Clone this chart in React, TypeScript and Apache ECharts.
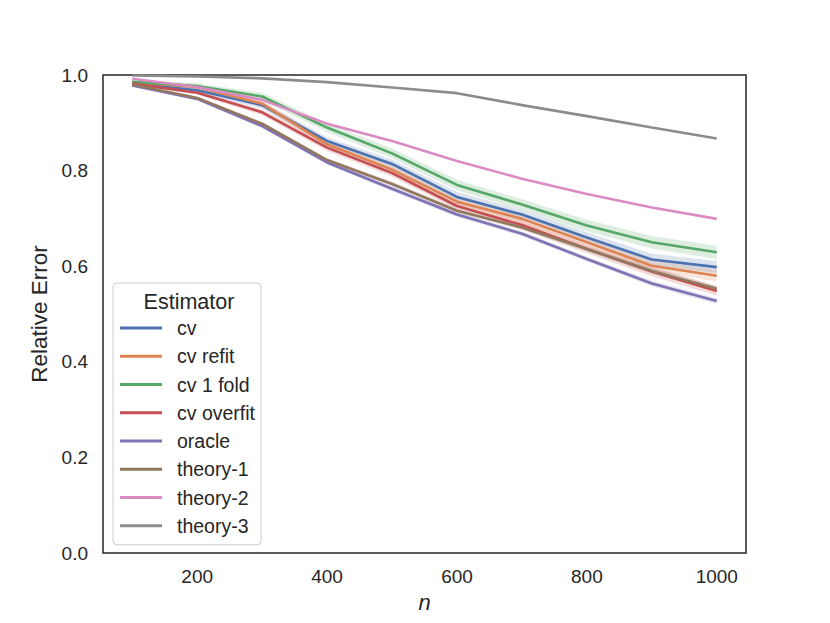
import React, { useEffect, useRef } from "react";
import * as echarts from "echarts";

const nValues = [100, 200, 300, 400, 500, 600, 700, 800, 900, 1000];
const xTickValues = [200, 400, 600, 800, 1000];

const seriesNames = ["cv", "cv refit", "cv 1 fold", "cv overfit", "oracle", "theory-1", "theory-2", "theory-3"];
const seriesColors = ["#4c72b0", "#dd8452", "#55a868", "#c44e52", "#8172b3", "#937860", "#da8bc3", "#8c8c8c"];

const cvValues = [0.982, 0.968, 0.937, 0.862, 0.814, 0.745, 0.708, 0.66, 0.614, 0.598];
const cvRefitValues = [0.985, 0.975, 0.94, 0.855, 0.802, 0.735, 0.699, 0.65, 0.601, 0.58];
const cv1FoldValues = [0.986, 0.977, 0.955, 0.89, 0.836, 0.77, 0.729, 0.685, 0.65, 0.629];
const cvOverfitValues = [0.982, 0.963, 0.922, 0.848, 0.795, 0.726, 0.686, 0.636, 0.589, 0.548];
const oracleValues = [0.978, 0.95, 0.893, 0.817, 0.762, 0.708, 0.668, 0.615, 0.564, 0.527];
const theory1Values = [0.98, 0.952, 0.898, 0.822, 0.772, 0.716, 0.681, 0.636, 0.59, 0.553];
const theory2Values = [0.992, 0.975, 0.948, 0.898, 0.862, 0.82, 0.783, 0.751, 0.723, 0.699];
const theory3Values = [0.999, 0.997, 0.993, 0.985, 0.974, 0.962, 0.937, 0.914, 0.89, 0.867];

// confidence band half-widths (read from the shaded areas)
const cvBand = [0.003, 0.005, 0.007, 0.008, 0.009, 0.01, 0.01, 0.011, 0.012, 0.013];
const cvRefitBand = [0.003, 0.005, 0.007, 0.008, 0.009, 0.009, 0.01, 0.01, 0.011, 0.012];
const cv1FoldBand = [0.003, 0.005, 0.008, 0.009, 0.01, 0.011, 0.011, 0.012, 0.013, 0.014];
const cvOverfitBand = [0.003, 0.004, 0.006, 0.007, 0.008, 0.008, 0.009, 0.009, 0.01, 0.01];
const oracleBand = [0.002, 0.003, 0.004, 0.004, 0.005, 0.005, 0.005, 0.005, 0.006, 0.006];
const theory1Band = [0.002, 0.003, 0.004, 0.004, 0.005, 0.005, 0.005, 0.005, 0.006, 0.006];
const theory2Band: number[] = [];
const theory3Band: number[] = [];

const allValues = [cvValues, cvRefitValues, cv1FoldValues, cvOverfitValues, oracleValues, theory1Values, theory2Values, theory3Values];
const allBands = [cvBand, cvRefitBand, cv1FoldBand, cvOverfitBand, oracleBand, theory1Band, theory2Band, theory3Band];

const FONT = "Liberation Sans, Arial, Helvetica, sans-serif";
const TEXT = "#262626";

export default function App() {
  const ref = useRef<HTMLDivElement>(null);
  useEffect(() => {
    if (!ref.current) return;
    const chart = echarts.init(ref.current, null, { renderer: "svg" });

    const bandSeries: any[] = [];
    allBands.forEach((band, si) => {
      if (!band.length) return;
      const vals = allValues[si];
      const rows = nValues.map((n, i) => [n, vals[i] - band[i], vals[i] + band[i]]);
      bandSeries.push({
        type: "custom",
        silent: true,
        z: 1,
        clip: true,
        data: rows,
        encode: { x: 0, y: [1, 2] },
        renderItem: (params: any, api: any) => {
          if (params.dataIndex !== 0) return null;
          const upper = rows.map((r) => api.coord([r[0], r[2]]));
          const lower = rows.map((r) => api.coord([r[0], r[1]])).reverse();
          return {
            type: "polygon",
            shape: { points: upper.concat(lower) },
            style: { fill: seriesColors[si], opacity: 0.2 },
          };
        },
      });
    });

    const lineSeries = seriesNames.map((name, si) => ({
      name,
      type: "line",
      z: 2,
      data: nValues.map((n, i) => [n, allValues[si][i]]),
      showSymbol: false,
      color: seriesColors[si],
      lineStyle: { width: 2.6, color: seriesColors[si] },
      itemStyle: { color: seriesColors[si] },
    }));

    chart.setOption({
      animation: false,
      backgroundColor: "#ffffff",
      grid: {
        left: 103,
        top: 75,
        width: 643,
        height: 478,
        show: true,
        borderColor: TEXT,
        borderWidth: 1.5,
        backgroundColor: "transparent",
      },
      xAxis: {
        type: "value",
        min: 55,
        max: 1045,
        name: "n",
        nameLocation: "middle",
        nameGap: 38,
        nameTextStyle: { fontSize: 22, fontStyle: "italic", fontFamily: FONT, color: TEXT },
        axisLine: { show: false },
        axisTick: { show: false },
        splitLine: { show: false },
        axisLabel: {
          customValues: xTickValues,
          fontSize: 19,
          fontFamily: FONT,
          color: TEXT,
          margin: 14,
          formatter: (v: number) => String(v),
        },
      },
      yAxis: {
        type: "value",
        min: 0,
        max: 1,
        interval: 0.2,
        name: "Relative Error",
        nameLocation: "middle",
        nameGap: 51,
        nameTextStyle: { fontSize: 22.5, fontFamily: FONT, color: TEXT },
        axisLine: { show: false },
        axisTick: { show: false },
        splitLine: { show: false },
        axisLabel: {
          fontSize: 19,
          fontFamily: FONT,
          color: TEXT,
          margin: 15,
          formatter: (v: number) => v.toFixed(1),
        },
      },
      legend: {
        data: seriesNames,
        orient: "vertical",
        left: 113,
        top: 283,
        padding: [35, 6, 9, 7],
        itemWidth: 42,
        itemHeight: 3,
        itemGap: 8.25,
        icon: "rect",
        borderColor: "#cccccc",
        borderWidth: 1,
        borderRadius: 4,
        backgroundColor: "rgba(255,255,255,0.8)",
        selectedMode: false,
        textStyle: {
          fontSize: 19.5,
          fontFamily: FONT,
          color: TEXT,
          lineHeight: 20,
          padding: [0, 0, 0, 10],
        },
      },
      graphic: [
        {
          type: "text",
          x: 189,
          y: 302,
          z: 100,
          style: {
            text: "Estimator",
            fontSize: 21.5,
            fontFamily: FONT,
            fill: TEXT,
            textAlign: "center",
            textVerticalAlign: "middle",
          },
        },
      ],
      series: [...bandSeries, ...lineSeries],
    });
    return () => chart.dispose();
  }, []);
  return <div ref={ref} style={{ position: "absolute", left: 0, top: 0, width: 830, height: 623 }} />;
}
